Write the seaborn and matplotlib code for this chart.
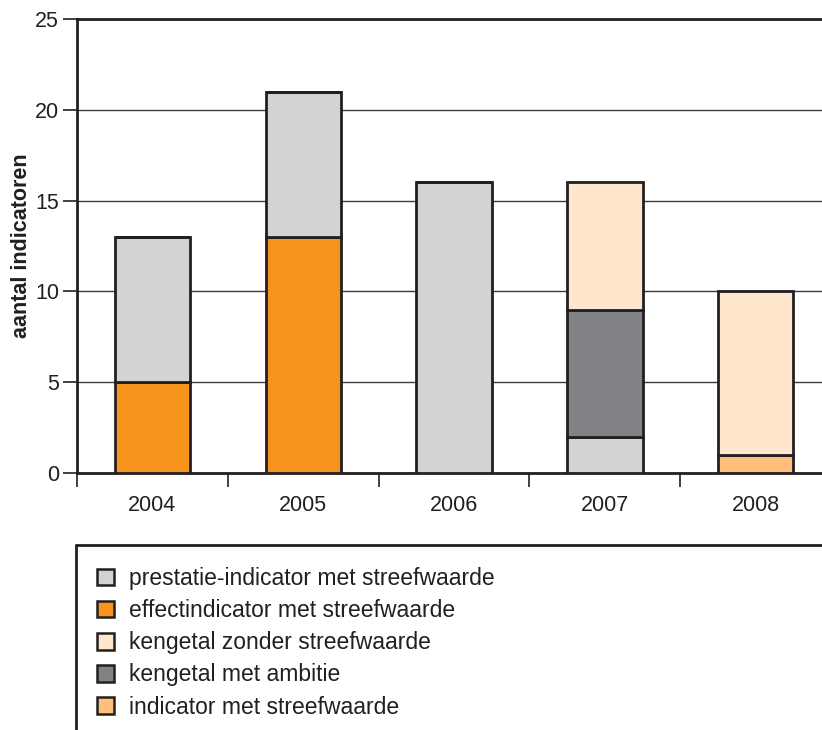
import matplotlib
matplotlib.use("Agg")
import matplotlib.pyplot as plt
import seaborn as sns
import numpy as np
from matplotlib.patches import Patch
from matplotlib.lines import Line2D

years = ["2004", "2005", "2006", "2007", "2008"]
# stacking order bottom -> top
effect = [5, 13, 0, 0, 0]
indicator = [0, 0, 0, 0, 1]
prestatie = [8, 8, 16, 2, 0]
ambitie = [0, 0, 0, 7, 0]
zonder = [0, 0, 0, 7, 9]

series = [
    ("effectindicator met streefwaarde", effect, "#F7941D"),
    ("indicator met streefwaarde", indicator, "#FDBF7A"),
    ("prestatie-indicator met streefwaarde", prestatie, "#D1D3D4"),
    ("kengetal met ambitie", ambitie, "#808285"),
    ("kengetal zonder streefwaarde", zonder, "#FFE6CC"),
]
legend_order = [
    "prestatie-indicator met streefwaarde",
    "effectindicator met streefwaarde",
    "kengetal zonder streefwaarde",
    "kengetal met ambitie",
    "indicator met streefwaarde",
]

sns.set_theme(style="white")
plt.rcParams["font.family"] = ["Liberation Sans", "DejaVu Sans"]

W, H = 822, 730
fig = plt.figure(figsize=(W / 100, H / 100), dpi=100)
ax = fig.add_axes([77 / W, 1 - 473 / H, (W - 77) / W, (473 - 19) / H])

edge = "#231F20"
bottom = np.zeros(len(years))
for name, vals, col in series:
    sns.barplot(x=years, y=vals, bottom=bottom, color=col, edgecolor=edge,
                linewidth=2.0, width=0.5, ax=ax, zorder=3, saturation=1)
    bottom = bottom + np.array(vals)

ax.set_xlim(-0.5, 4.44)
ax.set_ylim(0, 25)
ax.set_yticks([0, 5, 10, 15, 20, 25])
ax.yaxis.grid(True, color="#3a3a3a", linewidth=1.0, zorder=0)
ax.xaxis.grid(False)
ax.set_axisbelow(True)

for s in ["left", "bottom", "top"]:
    ax.spines[s].set_visible(True)
    ax.spines[s].set_color(edge)
    ax.spines[s].set_linewidth(2.0)
ax.spines["right"].set_visible(False)

ax.tick_params(axis="y", which="major", direction="out", length=10, width=1.2,
               color=edge, labelsize=15.5, labelcolor="#231F20", pad=3, left=True)
ax.tick_params(axis="x", which="major", length=0, labelsize=15.5,
               labelcolor="#231F20", pad=16)
ax.set_xticks(np.arange(-0.5, 4.0, 1.0), minor=True)
ax.tick_params(axis="x", which="minor", direction="out", length=10, width=1.2,
               color=edge, bottom=True)

ax.set_xlabel("")
ax.set_ylabel("aantal indicatoren", fontsize=15.5, fontweight="bold",
              color="#231F20", labelpad=2)

# legend box lines (top and left)
fig.add_artist(Line2D([76 / W, 1.0], [1 - 545 / H, 1 - 545 / H],
                      transform=fig.transFigure, color=edge, linewidth=2.0))
fig.add_artist(Line2D([76 / W, 76 / W], [1 - 545 / H, 0.0],
                      transform=fig.transFigure, color=edge, linewidth=2.0))

colmap = {n: c for n, v, c in series}
handles = [Patch(facecolor=colmap[n], edgecolor=edge, linewidth=1.8, label=n)
           for n in legend_order]
fig.legend(handles=handles, loc="upper left",
           bbox_to_anchor=(97 / W, 1 - 567 / H), frameon=False,
           fontsize=16.5, handlelength=0.73, handleheight=0.73,
           handletextpad=0.68, labelspacing=0.40, borderaxespad=0,
           borderpad=0, labelcolor="#231F20")

fig.savefig("out.png", dpi=100)
